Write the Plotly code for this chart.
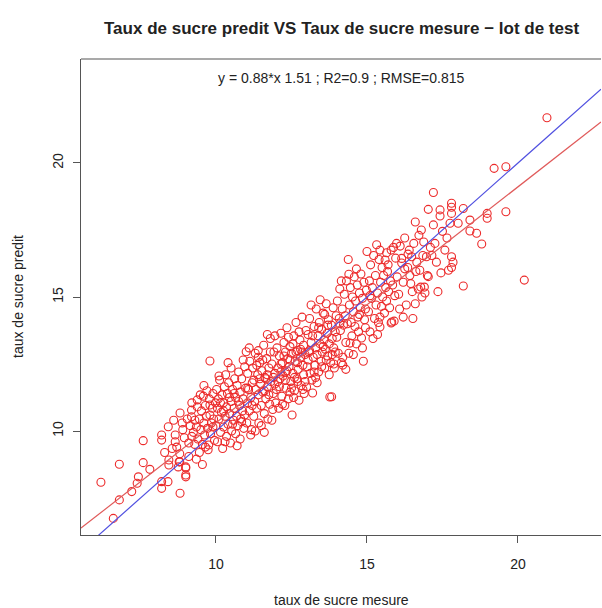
import plotly.graph_objects as go

# Test-set samples (measured sugar rate, predicted sugar rate), grouped by measured range
band_06_08 = [(6.19, 8.09), (6.60, 6.74), (6.80, 8.76), (6.80, 7.43), (7.21, 7.74), (7.39, 8.05),
              (7.43, 8.29), (7.59, 9.64), (7.59, 8.82), (7.81, 8.57)]
band_08_09 = [(8.20, 7.86), (8.20, 8.11), (8.20, 9.85), (8.20, 9.66), (8.42, 10.16), (8.44, 8.92),
              (8.44, 8.73), (8.41, 8.11), (8.81, 7.68), (8.81, 10.67), (8.65, 9.85), (8.65, 9.60),
              (8.70, 9.40), (8.80, 9.15), (8.78, 8.85), (8.75, 8.66), (9.00, 8.62), (9.00, 8.29),
              (8.55, 9.35), (8.30, 9.20), (8.90, 10.05), (8.95, 9.75), (8.60, 10.40), (8.88, 10.30)]
band_09_10 = [(9.19, 10.78), (9.19, 10.53), (9.20, 9.80), (9.30, 9.50), (9.38, 11.16), (9.38, 10.90),
              (9.80, 10.97), (9.80, 10.60), (9.85, 10.30), (9.74, 9.30), (9.76, 9.48), (9.00, 8.36),
              (9.00, 8.66), (8.80, 8.85), (9.10, 9.05), (9.15, 10.20), (9.25, 9.95), (9.30, 10.40),
              (9.35, 10.15), (9.40, 9.70), (9.45, 9.20), (9.45, 10.45), (9.50, 10.05), (9.52, 10.75),
              (9.55, 9.50), (9.58, 11.30), (9.60, 10.30), (9.62, 9.85), (9.65, 10.95), (9.68, 10.55),
              (9.70, 11.50), (9.72, 10.10), (9.78, 11.20), (9.82, 9.90), (9.88, 10.85), (9.90, 11.40),
              (9.92, 10.45), (9.95, 9.65), (9.98, 11.05), (9.35, 8.95), (9.55, 8.75), (9.80, 12.61),
              (9.10, 9.55), (9.20, 11.05), (9.65, 9.40), (9.90, 10.15), (9.48, 11.35), (9.60, 11.70),
              (9.05, 10.45)]
band_10_11 = [(10.00, 10.20), (10.02, 11.55), (10.05, 9.60), (10.05, 10.85), (10.08, 11.20), (10.10, 10.45),
              (10.12, 11.90), (10.15, 9.95), (10.18, 10.70), (10.20, 11.35), (10.22, 9.35), (10.25, 10.15),
              (10.25, 11.05), (10.28, 11.65), (10.30, 10.55), (10.32, 12.10), (10.35, 9.80), (10.35, 10.90),
              (10.38, 11.40), (10.40, 10.25), (10.42, 11.80), (10.45, 10.65), (10.48, 9.55), (10.50, 11.10),
              (10.50, 12.35), (10.52, 10.00), (10.55, 11.55), (10.58, 10.40), (10.60, 10.85), (10.62, 11.95),
              (10.65, 9.90), (10.65, 11.25), (10.68, 10.55), (10.70, 11.70), (10.72, 10.20), (10.75, 12.20),
              (10.78, 10.95), (10.80, 9.70), (10.80, 11.45), (10.82, 10.45), (10.85, 11.95), (10.88, 10.75),
              (10.90, 11.20), (10.92, 10.10), (10.95, 12.40), (10.95, 10.60), (10.98, 11.60), (11.00, 12.96),
              (10.10, 12.05), (10.40, 12.55), (10.70, 9.45), (10.55, 10.25), (10.85, 10.35), (10.25, 10.75),
              (10.60, 11.40), (10.15, 11.05), (10.75, 11.10), (10.45, 11.25), (10.30, 9.60), (10.90, 12.65)]
band_11_12 = [(11.02, 10.30), (11.05, 11.05), (11.05, 12.15), (11.08, 11.55), (11.10, 10.75), (11.12, 12.60),
              (11.15, 11.25), (11.18, 10.05), (11.20, 11.80), (11.22, 12.35), (11.25, 10.55), (11.28, 11.10),
              (11.30, 12.90), (11.32, 11.55), (11.35, 10.85), (11.38, 12.10), (11.40, 11.35), (11.42, 10.30),
              (11.45, 12.55), (11.48, 11.75), (11.50, 10.95), (11.52, 12.25), (11.55, 11.45), (11.58, 13.20),
              (11.60, 10.65), (11.62, 12.00), (11.65, 11.20), (11.68, 12.70), (11.70, 11.65), (11.72, 10.45),
              (11.75, 12.35), (11.78, 11.00), (11.80, 13.45), (11.82, 11.85), (11.85, 12.50), (11.88, 10.80),
              (11.90, 11.40), (11.92, 12.95), (11.95, 12.15), (11.98, 11.05), (11.10, 13.10), (11.40, 13.00),
              (11.70, 13.60), (11.95, 13.55), (11.60, 9.95), (11.30, 10.00), (11.15, 9.85), (11.50, 10.20),
              (11.85, 10.40), (11.25, 11.90), (11.45, 11.95), (11.65, 11.95), (11.35, 12.45), (11.55, 12.65),
              (11.75, 11.35), (11.90, 12.00), (11.20, 10.95), (11.60, 11.50), (11.80, 12.95), (11.05, 11.60),
              (11.40, 12.75), (11.70, 12.10), (11.95, 11.75)]
band_12_13 = [(12.00, 11.55), (12.02, 13.10), (12.05, 12.35), (12.08, 10.85), (12.10, 12.80), (12.12, 11.95),
              (12.15, 13.65), (12.18, 11.30), (12.20, 12.55), (12.22, 12.05), (12.25, 13.30), (12.28, 10.95),
              (12.30, 12.20), (12.32, 11.60), (12.35, 13.85), (12.38, 12.70), (12.40, 11.20), (12.42, 12.40),
              (12.45, 13.15), (12.48, 11.85), (12.50, 12.90), (12.52, 10.60), (12.55, 12.15), (12.58, 13.55),
              (12.60, 11.50), (12.62, 12.60), (12.65, 14.05), (12.68, 11.95), (12.70, 13.00), (12.72, 12.30),
              (12.75, 11.15), (12.78, 13.40), (12.80, 12.75), (12.82, 11.70), (12.85, 14.25), (12.88, 12.45),
              (12.90, 13.20), (12.92, 11.40), (12.95, 12.85), (12.98, 13.75), (12.10, 11.65), (12.30, 12.95),
              (12.50, 11.60), (12.70, 12.55), (12.90, 12.10), (12.15, 12.50), (12.35, 12.25), (12.55, 13.25),
              (12.75, 13.70), (12.95, 11.85), (12.20, 11.00), (12.45, 11.45), (12.65, 12.95), (12.85, 12.95),
              (12.25, 12.80), (12.60, 12.00), (12.40, 13.50), (12.80, 13.05), (12.05, 11.85), (12.30, 11.90),
              (12.57, 11.25), (12.88, 11.55), (12.45, 12.65), (12.70, 11.85), (12.15, 12.20)]
band_13_14 = [(13.00, 11.64), (13.02, 12.40), (13.05, 13.60), (13.08, 12.95), (13.10, 14.20), (13.12, 12.15),
              (13.15, 13.30), (13.18, 11.90), (13.20, 11.42), (13.22, 12.75), (13.25, 13.90), (13.28, 12.45),
              (13.30, 13.10), (13.32, 14.55), (13.35, 12.85), (13.38, 13.55), (13.40, 12.20), (13.42, 14.05),
              (13.45, 13.25), (13.48, 12.60), (13.50, 13.80), (13.52, 12.95), (13.55, 14.40), (13.58, 13.40),
              (13.60, 12.35), (13.62, 13.05), (13.65, 14.75), (13.68, 13.65), (13.70, 12.80), (13.72, 14.15),
              (13.75, 13.25), (13.77, 11.27), (13.80, 12.55), (13.82, 13.95), (13.83, 11.28), (13.85, 13.45),
              (13.88, 14.60), (13.90, 12.50), (13.92, 12.35), (13.95, 13.70), (13.98, 14.30), (13.10, 13.00),
              (13.30, 12.00), (13.50, 12.40), (13.70, 13.95), (13.90, 13.10), (13.15, 14.70), (13.45, 14.90),
              (13.60, 14.35), (13.85, 12.85), (13.25, 12.20), (13.55, 13.15), (13.75, 12.10), (13.05, 12.65),
              (13.40, 13.85), (13.65, 12.65), (13.95, 12.95), (13.20, 13.55), (13.35, 11.80)]
band_14_15 = [(14.00, 13.50), (14.02, 14.85), (14.05, 12.90), (14.08, 14.20), (14.10, 15.30), (14.12, 13.75),
              (14.15, 12.55), (14.18, 14.55), (14.20, 12.75), (14.20, 12.46), (14.22, 13.95), (14.25, 15.10),
              (14.28, 14.30), (14.30, 13.30), (14.32, 15.60), (14.35, 14.00), (14.38, 16.40), (14.40, 12.90),
              (14.42, 14.70), (14.44, 13.28), (14.45, 15.35), (14.48, 14.05), (14.50, 13.55), (14.52, 15.00),
              (14.55, 14.45), (14.58, 15.75), (14.60, 13.90), (14.62, 14.85), (14.65, 13.25), (14.68, 15.45),
              (14.70, 14.25), (14.72, 13.70), (14.75, 15.15), (14.78, 14.60), (14.80, 15.86), (14.82, 13.47),
              (14.85, 14.95), (14.88, 12.60), (14.90, 15.55), (14.92, 14.15), (14.95, 13.85), (14.98, 15.25),
              (15.00, 16.70), (14.10, 14.00), (14.40, 15.85), (14.65, 16.05), (14.85, 13.10), (14.30, 12.30),
              (14.55, 12.85), (14.15, 15.60), (14.75, 14.35), (14.95, 14.55)]
band_15_16 = [(15.05, 14.45), (15.08, 15.60), (15.10, 13.70), (15.12, 16.20), (15.15, 14.95), (15.18, 15.35),
              (15.20, 13.45), (15.22, 16.55), (15.25, 14.20), (15.28, 15.80), (15.30, 14.70), (15.32, 16.95),
              (15.35, 15.15), (15.38, 14.05), (15.40, 16.40), (15.43, 14.25), (15.43, 13.88), (15.43, 16.75),
              (15.45, 15.55), (15.48, 14.65), (15.50, 16.10), (15.52, 15.00), (15.55, 15.80), (15.58, 14.40),
              (15.60, 16.38), (15.62, 15.35), (15.65, 14.85), (15.68, 15.95), (15.70, 16.20), (15.72, 15.20),
              (15.75, 14.60), (15.78, 15.60), (15.80, 14.03), (15.80, 16.75), (15.82, 14.07), (15.85, 15.45),
              (15.88, 16.85), (15.90, 14.10), (15.92, 15.05), (15.95, 16.45), (15.98, 17.00), (16.00, 15.75),
              (15.10, 15.05), (15.35, 13.60), (15.65, 16.65)]
band_16_17 = [(16.05, 15.10), (16.10, 16.90), (16.15, 16.44), (16.15, 16.27), (16.20, 14.25), (16.20, 15.55),
              (16.25, 16.05), (16.30, 14.70), (16.35, 16.10), (16.36, 16.60), (16.40, 16.75), (16.42, 15.80),
              (16.45, 15.50), (16.48, 16.50), (16.50, 15.20), (16.52, 14.20), (16.55, 17.00), (16.60, 17.80),
              (16.62, 15.95), (16.65, 16.30), (16.70, 15.30), (16.72, 17.30), (16.75, 16.00), (16.78, 15.37),
              (16.80, 17.50), (16.82, 15.00), (16.85, 16.55), (16.90, 15.37), (16.92, 15.15), (16.97, 16.50),
              (17.00, 15.80), (16.25, 17.20), (16.60, 14.75), (16.08, 14.55), (16.88, 17.05)]
band_17_18 = [(17.03, 18.27), (17.03, 15.76), (17.10, 16.85), (17.20, 18.90), (17.20, 17.69), (17.25, 17.00),
              (17.30, 16.30), (17.35, 15.20), (17.42, 18.25), (17.42, 18.02), (17.50, 17.45), (17.58, 16.75),
              (17.65, 17.20), (17.70, 16.00), (17.80, 18.50), (17.80, 18.35), (17.80, 18.12), (17.80, 16.50),
              (17.80, 16.10), (17.85, 16.30), (17.75, 17.75), (17.15, 16.55), (17.45, 15.90)]
band_18_21 = [(18.02, 17.75), (18.19, 18.30), (18.19, 15.41), (18.41, 17.87), (18.41, 17.46), (18.63, 17.38),
              (18.80, 16.98), (18.98, 18.12), (18.98, 17.94), (19.21, 19.80), (19.60, 19.86), (19.60, 18.18),
              (20.21, 15.63), (20.96, 21.69)]

bands = [band_06_08, band_08_09, band_09_10, band_10_11, band_11_12, band_12_13,
         band_13_14, band_14_15, band_15_16, band_16_17, band_17_18, band_18_21]
mesure = [p[0] for b in bands for p in b]
predit = [p[1] for b in bands for p in b]

# Fit summary printed in the plot
slope = 0.88
intercept = 1.51
r2 = 0.9
rmse = 0.815

x_ticks = [10, 15, 20]
y_ticks = [10, 15, 20]
x_range = [5.53, 22.75]
y_range = [6.12, 23.88]

font_family = "Liberation Sans, Arial, Helvetica, sans-serif"
text_color = "#222222"

fig = go.Figure()

fig.add_trace(go.Scatter(
    x=mesure, y=predit, mode="markers",
    marker=dict(symbol="circle-open", size=8, color="#ec2a2a", line=dict(width=1.1, color="#ec2a2a")),
    showlegend=False, hoverinfo="skip",
))

# Identity line (blue) and regression line (red)
fig.add_trace(go.Scatter(
    x=x_range, y=x_range, mode="lines",
    line=dict(color="#5050e0", width=1.2), showlegend=False, hoverinfo="skip",
))
fig.add_trace(go.Scatter(
    x=x_range, y=[slope * v + intercept for v in x_range], mode="lines",
    line=dict(color="#e05a5a", width=1.2), showlegend=False, hoverinfo="skip",
))

axis_common = dict(
    showgrid=False, zeroline=False, showline=True, linecolor="#555555", linewidth=1.2,
    ticks="outside", ticklen=7, tickcolor="#555555", tickwidth=1.2,
    tickfont=dict(family=font_family, size=14, color=text_color),
)

fig.update_layout(
    width=602, height=608,
    margin=dict(l=81, r=1, t=59, b=73),
    paper_bgcolor="white", plot_bgcolor="white",
    xaxis=dict(range=x_range, tickvals=x_ticks, ticklabelstandoff=9, **axis_common),
    yaxis=dict(range=y_range, tickvals=y_ticks, tickangle=-90, ticklabelstandoff=4, **axis_common),
    shapes=[dict(type="line", xref="paper", yref="paper", x0=0, x1=1, y0=1, y1=1,
                 line=dict(color="#555555", width=1.2))],
    annotations=[
        dict(text="<b>Taux de sucre predit VS Taux de sucre mesure \u2212 lot de test</b>",
             xref="paper", yref="paper", x=0.5, y=1, yshift=31, xanchor="center", yanchor="middle",
             showarrow=False, font=dict(family=font_family, size=17, color=text_color)),
        dict(text=f"y = {slope}*x {intercept} ; R2={r2} ; RMSE={rmse}",
             xref="paper", yref="paper", x=0.5, y=1, yshift=-19, xanchor="center", yanchor="middle",
             showarrow=False, font=dict(family=font_family, size=14, color=text_color)),
        dict(text="taux de sucre mesure", xref="paper", yref="paper", x=0.5, y=0, yshift=-65,
             xanchor="center", yanchor="middle", showarrow=False,
             font=dict(family=font_family, size=14, color=text_color)),
        dict(text="taux de sucre predit", xref="paper", yref="paper", x=0, y=0.5, xshift=-63,
             textangle=-90, xanchor="center", yanchor="middle", showarrow=False,
             font=dict(family=font_family, size=14, color=text_color)),
    ],
)

fig.write_html("out.html")
